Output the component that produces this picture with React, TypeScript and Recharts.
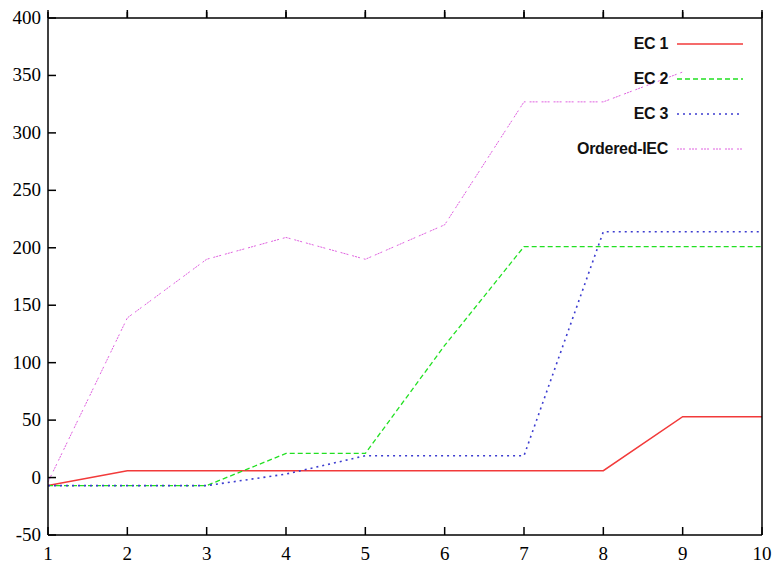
import { LineChart, Line, XAxis, YAxis, Legend } from 'recharts'

const xValues = [1, 2, 3, 4, 5, 6, 7, 8, 9, 10]
const ec1 = [-7, 6, 6, 6, 6, 6, 6, 6, 53, 53]
const ec2 = [-7, -7, -7, 21, 21, 115, 201, 201, 201, 201]
const ec3 = [-7, -7, -7, 3, 19, 19, 19, 214, 214, 214]
const orderedIec = [-4, 139, 190, 209, 190, 220, 327, 327, 353, null]

const xTicks = [1, 2, 3, 4, 5, 6, 7, 8, 9, 10]
const yTicks = [-50, 0, 50, 100, 150, 200, 250, 300, 350, 400]

const series = [
  { key: 'ec1', name: 'EC 1', color: '#f23a3a', dash: undefined, width: 1.5 },
  { key: 'ec2', name: 'EC 2', color: '#22e022', dash: '5 3', width: 1.3 },
  { key: 'ec3', name: 'EC 3', color: '#3c3cd0', dash: '2 4', width: 1.6 },
  { key: 'oiec', name: 'Ordered-IEC', color: '#e060e0', dash: '2 1 2 1 2 4', width: 1 },
]

const data = xValues.map((x, i) => ({
  x,
  ec1: ec1[i],
  ec2: ec2[i],
  ec3: ec3[i],
  oiec: orderedIec[i],
}))

const axisColor = 'black'
const labelStyle = { fontFamily: '"Liberation Serif", serif', fontSize: 19, fill: 'black' }

// gnuplot style ticks: short marks pointing inward, labels outside
const BottomTick = ({ x, y, payload }: any) => (
  <g>
    <line x1={x} y1={y} x2={x} y2={y - 8} stroke={axisColor} strokeWidth={1.5} />
    <text x={x} y={y + 25} textAnchor="middle" style={labelStyle}>
      {payload.value}
    </text>
  </g>
)
const TopTick = ({ x, y }: any) => (
  <line x1={x} y1={y} x2={x} y2={y + 8} stroke={axisColor} strokeWidth={1.5} />
)
const LeftTick = ({ x, y, payload }: any) => (
  <g>
    <line x1={x} y1={y} x2={x + 8} y2={y} stroke={axisColor} strokeWidth={1.5} />
    <text x={x - 7} y={y + 6} textAnchor="end" style={labelStyle}>
      {payload.value}
    </text>
  </g>
)
const RightTick = ({ x, y }: any) => (
  <line x1={x} y1={y} x2={x - 8} y2={y} stroke={axisColor} strokeWidth={1.5} />
)

const KeyContent = () => (
  <div>
    {series.map((s) => (
      <div key={s.key} style={{ display: 'flex', alignItems: 'center', height: 35 }}>
        <span
          style={{
            width: 148,
            textAlign: 'right',
            fontFamily: '"Liberation Sans", Arial, sans-serif',
            fontWeight: 'bold',
            fontSize: 16,
            letterSpacing: -0.3,
            color: '#111',
          }}
        >
          {s.name}
        </span>
        <svg width={70} height={10} style={{ marginLeft: 9 }}>
          <line x1={0} y1={5} x2={66} y2={5} stroke={s.color} strokeWidth={s.width} strokeDasharray={s.dash} />
        </svg>
      </div>
    ))}
  </div>
)

export default function App() {
  return (
    <div style={{ width: 773, height: 564, background: '#fff' }}>
      <style>{`body{margin:0}`}</style>
      <LineChart width={773} height={564} data={data} margin={{ top: 17, right: 10, bottom: 0, left: 0 }}>
        <XAxis
          dataKey="x"
          type="number"
          domain={[1, 10]}
          ticks={xTicks}
          height={29}
          tickSize={0}
          tickMargin={0}
          tickLine={false}
          tick={BottomTick}
          stroke={axisColor}
          strokeWidth={1.5}
        />
        <XAxis
          xAxisId="top"
          orientation="top"
          dataKey="x"
          type="number"
          domain={[1, 10]}
          ticks={xTicks}
          height={1}
          tick={TopTick}
          stroke={axisColor}
          strokeWidth={1.5}
        />
        <YAxis
          type="number"
          domain={[-50, 400]}
          ticks={yTicks}
          width={48}
          tickSize={0}
          tickMargin={0}
          tickLine={false}
          tick={LeftTick}
          stroke={axisColor}
          strokeWidth={1.5}
        />
        <YAxis
          yAxisId="right"
          orientation="right"
          type="number"
          domain={[-50, 400]}
          ticks={yTicks}
          width={1}
          tick={RightTick}
          stroke={axisColor}
          strokeWidth={1.5}
        />
        {series.map((s) => (
          <Line
            key={s.key}
            dataKey={s.key}
            name={s.name}
            type="linear"
            stroke={s.color}
            strokeWidth={s.width}
            strokeDasharray={s.dash}
            dot={false}
            activeDot={false}
            isAnimationActive={false}
          />
        ))}
        <Legend
          layout="horizontal"
          verticalAlign="middle"
          align="center"
          content={KeyContent}
          wrapperStyle={{ top: 26, left: 520, width: 230 }}
        />
      </LineChart>
    </div>
  )
}
